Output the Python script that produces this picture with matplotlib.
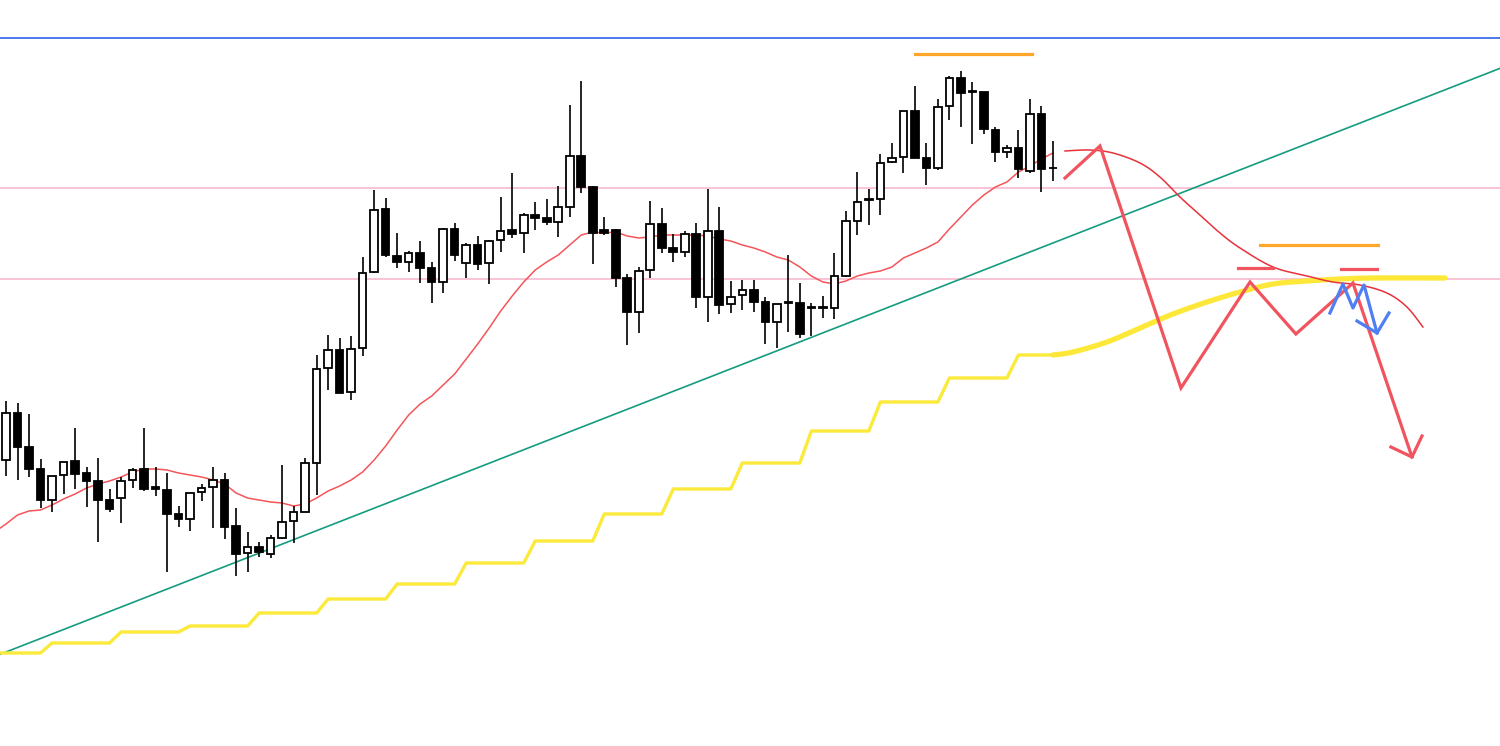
import matplotlib
matplotlib.use("Agg")
import matplotlib.pyplot as plt
from matplotlib.patches import Rectangle
import numpy as np

# ---- candle data (arbitrary price units) ----
opens = [340, 387, 353, 331, 300, 325, 339, 327, 319, 300, 302, 320, 331, 313, 310, 286,
         281, 308, 313, 320, 274, 247, 253, 246, 262, 279, 288, 337, 432, 450, 408, 452,
         528, 591, 544, 538, 547, 532, 518, 571, 537, 555, 537, 560, 570, 567, 585, 582,
         578, 593, 644, 613, 570, 570, 522, 488, 530, 576, 552, 548, 566, 503, 569, 496,
         505, 510, 498, 478, 497, 497, 492, 492, 492, 524, 579, 600, 601, 638, 643, 689,
         642, 632, 694, 722, 709, 708, 670, 648, 652, 629, 686, 632]
highs = [399, 397, 386, 341, 324, 338, 372, 333, 342, 311, 323, 332, 372, 333, 327, 294,
         307, 316, 333, 327, 292, 268, 258, 265, 335, 294, 342, 445, 465, 462, 464, 543,
         610, 602, 567, 549, 559, 538, 572, 577, 557, 564, 560, 603, 627, 587, 598, 601,
         614, 695, 719, 614, 583, 571, 526, 533, 599, 592, 566, 569, 577, 611, 593, 519,
         520, 520, 503, 496, 545, 517, 497, 504, 547, 589, 628, 611, 646, 657, 689, 714,
         657, 701, 724, 729, 718, 708, 673, 655, 670, 701, 694, 659]
lows = [324, 320, 323, 292, 288, 306, 311, 293, 258, 288, 277, 312, 309, 304, 228, 273,
        269, 299, 272, 261, 224, 228, 243, 242, 261, 257, 288, 305, 410, 407, 400, 444,
        527, 543, 532, 528, 517, 497, 507, 539, 522, 530, 516, 548, 562, 547, 570, 575,
        563, 583, 607, 536, 565, 513, 455, 467, 522, 547, 538, 543, 492, 478, 486, 487,
        490, 488, 456, 452, 468, 462, 464, 482, 481, 523, 565, 575, 585, 637, 627, 642,
        615, 630, 680, 673, 656, 666, 638, 642, 622, 627, 608, 619]
closes = [387, 353, 331, 300, 324, 338, 326, 319, 300, 291, 319, 330, 311, 311, 286, 281,
          307, 312, 320, 273, 246, 253, 248, 262, 278, 288, 337, 431, 450, 407, 451, 527,
          590, 545, 538, 547, 532, 518, 571, 545, 555, 536, 559, 569, 566, 585, 582, 578,
          593, 644, 613, 567, 567, 522, 488, 529, 576, 552, 548, 566, 503, 569, 495, 503,
          510, 498, 478, 496, 498, 466, 493, 493, 524, 579, 598, 601, 637, 642, 689, 642,
          632, 693, 722, 707, 708, 671, 648, 652, 631, 686, 631, 632]

# moving average
ma = [276, 285, 289, 290, 295, 301, 306, 312, 316, 319, 323, 328, 331, 331, 330, 327,
      325, 323, 320, 316, 307, 302, 300, 298, 297, 294, 296, 302, 309, 314, 320, 328,
      340, 354, 370, 385, 396, 404, 415, 426, 441, 456, 472, 489, 504, 518, 530, 538,
      545, 555, 565, 568, 567, 568, 564, 562, 563, 565, 565, 565, 565, 564, 561, 559,
      555, 552, 548, 543, 540, 533, 524, 518, 516, 519, 524, 527, 529, 533, 542, 547,
      552, 558, 571, 583, 595, 605, 613, 618, 628, 634, 641, 647]

# higher-timeframe average (stepped)
htf_levels = [147, 157, 168, 174, 187, 201, 216, 237, 259, 286, 311, 337, 369, 398, 422, 445]
htf_starts = [0, 4, 10, 16, 22, 28, 34, 40, 46, 52, 58, 64, 70, 76, 82, 88]

# horizontal levels
blue_level = 762
pink_levels = [612, 521]
# trendline anchors
trend_idx = [0, 91]
trend_px = [148, 557]

# hand-drawn scenario (bar index, price)
yellow_proj_x = [91, 92.75, 95.7, 98.57, 101.43, 104.39, 107.26, 110.13, 113.08, 115.95, 118.82, 125.08]
yellow_proj_y = [445, 448, 458, 472, 486, 498, 508, 516, 519, 521, 522, 522]
ma_proj_x = [92.05, 94.22, 96.22, 98.57, 100.3, 102.04, 103.78, 105.52, 107.26, 110.13,
             113.08, 115.34, 117.69, 120.03, 121.77, 123.16]
ma_proj_y = [649, 650, 647, 637, 623, 603, 585, 567, 552, 533, 524, 518, 515, 507, 493, 473]
zig_x = [92.05, 95.09, 102.13, 108.13, 112.12, 117.08, 122.21]
zig_y = [622, 654, 412, 518, 466, 517, 343]
zig_head_x = [120.38, 122.21, 123.08]
zig_head_y = [353, 343, 364]
blue_x = [115.08, 116.21, 117.08, 118.04, 119.17]
blue_y = [487, 516, 492, 515, 467]
blue_head_x = [117.43, 119.17, 120.21]
blue_head_y = [479, 467, 487]
red_marks = [(107.08, 110.13, 532), (116.04, 119.17, 531)]
orange_marks = [(79.01, 89.18, 746), (109.0, 119.25, 555)]


def smooth(xs, ys, k=12):
    """Catmull-Rom pass through the given anchor points (drawing style only)."""
    p = np.column_stack([xs, ys]).astype(float)
    p = np.vstack([p[0], p, p[-1]])
    out = []
    t = np.linspace(0, 1, k, endpoint=False)[:, None]
    for i in range(1, len(p) - 2):
        p0, p1, p2, p3 = p[i - 1], p[i], p[i + 1], p[i + 2]
        seg = 0.5 * ((2 * p1) + (-p0 + p2) * t + (2 * p0 - 5 * p1 + 4 * p2 - p3) * t ** 2
                     + (-p0 + 3 * p1 - 3 * p2 + p3) * t ** 3)
        out.append(seg)
    out.append(p[-2][None, :])
    out = np.vstack(out)
    return out[:, 0], out[:, 1]


# ---- figure ----
fig = plt.figure(figsize=(15, 7.46), dpi=100)
ax = fig.add_axes([0, 0, 1, 1])
ax.set_xlim(-0.5215, 129.86)
ax.set_ylim(54, 800)
ax.axis("off")

n = len(opens)
idx = np.arange(n)

# horizontal lines
ax.axhline(blue_level, color="#2b63e8", lw=1.2, zorder=1)
for lv in pink_levels:
    ax.axhline(lv, color="#f7bfd2", lw=1.3, zorder=1)

# trendline
ax.axline((trend_idx[0], trend_px[0]), (trend_idx[1], trend_px[1]), color="#159c7f", lw=1.2, zorder=2)

# stepped yellow line
htf = np.zeros(n)
bounds = htf_starts + [n]
for k, lv in enumerate(htf_levels):
    htf[bounds[k]:bounds[k + 1]] = lv
ax.plot(np.concatenate([[-1], idx]), np.concatenate([[htf[0]], htf]), color="#fbe93b",
        lw=2.4, solid_joinstyle="round", zorder=2)
yx, yy = smooth(yellow_proj_x, yellow_proj_y)
ax.plot(yx, yy, color="#fde83a", lw=3.8, solid_capstyle="round",
        solid_joinstyle="round", zorder=3)

# MA line
ax.plot(np.concatenate([[-1], idx]), np.concatenate([[ma[0] - 8], ma]), color="#f4555a", lw=1.1, zorder=3)

# candles
bw = 0.66
for i in range(n):
    o, h, l, c = opens[i], highs[i], lows[i], closes[i]
    ax.plot([i, i], [l, h], color="black", lw=1.2, zorder=4, solid_capstyle="butt")
    bull = c >= o
    lo, hi = min(o, c), max(o, c)
    ax.add_patch(Rectangle((i - bw / 2, lo), bw, hi - lo,
                           facecolor="white" if bull else "black",
                           edgecolor="black", lw=1.3, zorder=5))

# hand-drawn projections
mx, my = smooth(ma_proj_x, ma_proj_y)
ax.plot(mx, my, color="#e8313b", lw=1.1, zorder=6)
ax.plot(zig_x, zig_y, color="#f0545f", lw=2.3, solid_joinstyle="miter", zorder=7)
ax.plot(zig_head_x, zig_head_y, color="#f0545f", lw=2.3, zorder=7)
ax.plot(blue_x, blue_y, color="#4f7ff3", lw=2.3, zorder=8)
ax.plot(blue_head_x, blue_head_y, color="#4f7ff3", lw=2.3, zorder=8)
for x0, x1, y in red_marks:
    ax.plot([x0, x1], [y, y], color="#f0545f", lw=2.3, zorder=7)
for x0, x1, y in orange_marks:
    ax.plot([x0, x1], [y, y], color="#ffa62b", lw=2.3, zorder=7)

fig.savefig("out.png", dpi=100, facecolor="white")
